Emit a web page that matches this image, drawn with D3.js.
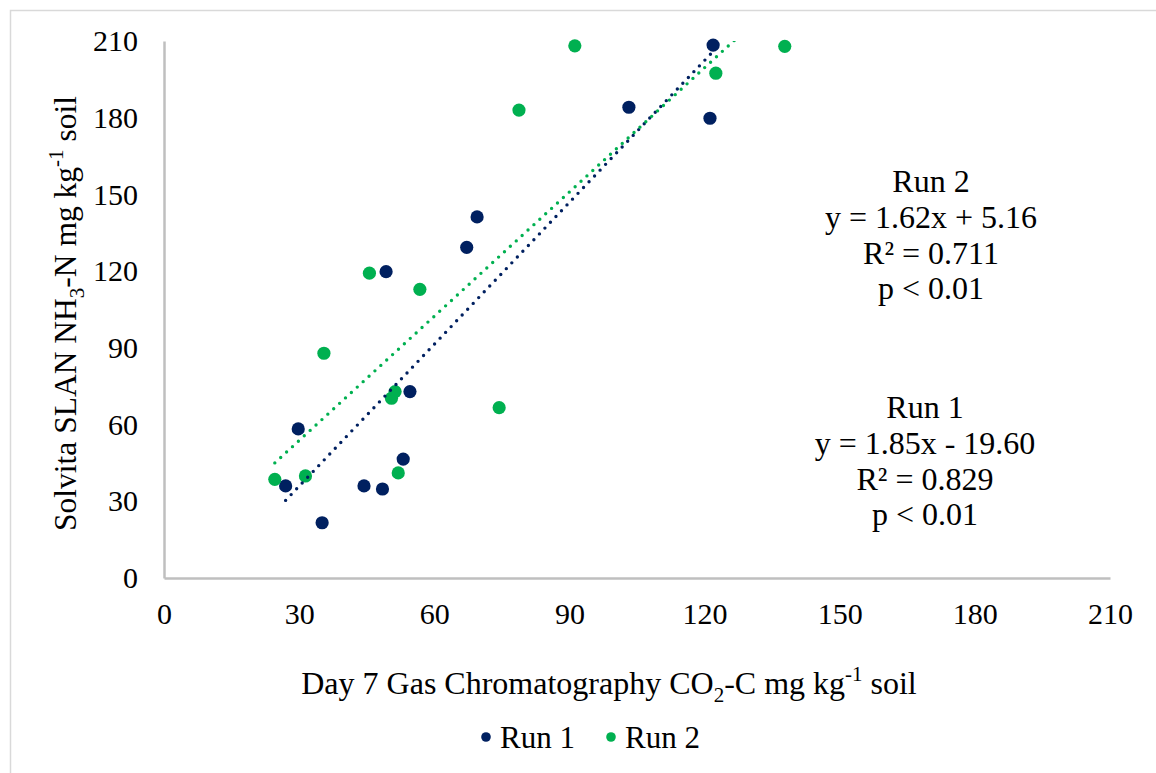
<!DOCTYPE html>
<html>
<head>
<meta charset="utf-8">
<script src="https://cdn.jsdelivr.net/npm/d3@7"></script>
<style>
  html, body { margin: 0; padding: 0; background: #ffffff; }
  svg text { font-family: "Liberation Serif", "Times New Roman", serif; fill: #000; }
</style>
</head>
<body>
<svg id="chart" width="1156" height="773"></svg>
<script>
// Run 1 measurements (CO2-C vs NH3-N, mg/kg soil)
const run1X = [27.0, 29.8, 35.1, 44.4, 48.5, 53.1, 49.3, 54.6, 67.2, 69.5, 103.2, 121.2, 121.9];
const run1Y = [36.0, 58.3, 21.6, 36.0, 34.8, 46.5, 119.8, 72.9, 129.3, 141.2, 184.1, 179.8, 208.4];
// Run 2 measurements
const run2X = [24.6, 31.4, 35.5, 45.6, 50.5, 51.3, 52.0, 56.8, 74.4, 78.8, 91.2, 122.5, 137.8];
const run2Y = [38.6, 39.9, 87.9, 119.2, 70.3, 72.9, 41.1, 112.9, 66.6, 183.0, 208.1, 197.4, 207.9];

// Linear fits [slope, intercept]
const run1Fit = [1.85, -19.60];
const run2Fit = [1.62, 5.16];

const seriesNames = ["Run 1", "Run 2"];
const seriesColors = ["#002060", "#00B050"];

const xTicks = [0, 30, 60, 90, 120, 150, 180, 210];
const yTicks = [0, 30, 60, 90, 120, 150, 180, 210];

const run2Stats = ["Run 2", "y = 1.62x + 5.16", "R² = 0.711", "p < 0.01"];
const run1Stats = ["Run 1", "y = 1.85x - 19.60", "R² = 0.829", "p < 0.01"];

const svg = d3.select("#chart");
const W = 1156, H = 773;
const plot = { left: 164, right: 1110, top: 41, bottom: 578 };

const x = d3.scaleLinear().domain([0, 210]).range([plot.left, plot.right]);
const y = d3.scaleLinear().domain([0, 210]).range([plot.bottom, plot.top]);

// chart frame
svg.append("rect")
  .attr("x", 10.5).attr("y", 10.5)
  .attr("width", W + 20).attr("height", H + 20)
  .attr("fill", "#fff").attr("stroke", "#D9D9D9").attr("stroke-width", 1.5);

svg.append("clipPath").attr("id", "plotClip")
  .append("rect")
  .attr("x", plot.left).attr("y", plot.top)
  .attr("width", plot.right - plot.left).attr("height", plot.bottom - plot.top);

// axes
const axisColor = "#BFBFBF";
const gx = svg.append("g")
  .attr("transform", `translate(0,${plot.bottom})`)
  .call(d3.axisBottom(x).tickValues(xTicks).tickSize(0).tickPadding(25).tickFormat(d3.format("d")));
const gy = svg.append("g")
  .attr("transform", `translate(${plot.left},0)`)
  .call(d3.axisLeft(y).tickValues(yTicks).tickSize(0).tickPadding(26).tickFormat(d3.format("d")));
[gx, gy].forEach(g => {
  g.select(".domain").attr("stroke", axisColor).attr("stroke-width", 2.5);
  g.selectAll("text")
    .style("font-family", "'Liberation Serif', 'Times New Roman', serif")
    .style("font-size", "30px").attr("fill", "#000");
});

// markers
const series = [
  { xs: run1X, ys: run1Y, fit: run1Fit, color: seriesColors[0] },
  { xs: run2X, ys: run2Y, fit: run2Fit, color: seriesColors[1] }
];
series.forEach(s => {
  svg.append("g").selectAll("circle")
    .data(s.xs.map((v, i) => [v, s.ys[i]]))
    .join("circle")
    .attr("cx", d => x(d[0])).attr("cy", d => y(d[1]))
    .attr("r", 6.6).attr("fill", s.color);
});

// dotted trendlines over the data range
const line = d3.line().x(d => x(d[0])).y(d => y(d[1]));
const trendG = svg.append("g").attr("clip-path", "url(#plotClip)");
series.forEach(s => {
  const [x0, x1] = d3.extent(s.xs);
  const pts = [[x0, s.fit[0] * x0 + s.fit[1]], [x1, s.fit[0] * x1 + s.fit[1]]];
  trendG.append("path")
    .attr("d", line(pts))
    .attr("fill", "none").attr("stroke", s.color)
    .attr("stroke-width", 3.4).attr("stroke-linecap", "round")
    .attr("stroke-dasharray", "0 8");
});

// regression annotations
function statBlock(lines, cx, baseline) {
  const t = svg.append("text").attr("text-anchor", "middle").style("font-size", "32px");
  lines.forEach((s, i) => {
    t.append("tspan").attr("x", cx).attr("y", baseline + i * 35.8).text(s);
  });
}
statBlock(run2Stats, 931, 192);
statBlock(run1Stats, 925, 418);

// axis titles
const xt = svg.append("text")
  .attr("x", 609).attr("y", 694)
  .attr("text-anchor", "middle").style("font-size", "32px");
xt.append("tspan").text("Day 7 Gas Chromatography CO");
xt.append("tspan").attr("dy", 8).style("font-size", "21px").text("2");
xt.append("tspan").attr("dy", -8).text("-C mg kg");
xt.append("tspan").attr("dy", -13).style("font-size", "21px").text("-1");
xt.append("tspan").attr("dy", 13).text(" soil");

const yt = svg.append("text")
  .attr("transform", `translate(76,${(plot.top + plot.bottom) / 2 + 4}) rotate(-90)`)
  .attr("text-anchor", "middle").style("font-size", "31.5px");
yt.append("tspan").text("Solvita SLAN NH");
yt.append("tspan").attr("dy", 8).style("font-size", "21px").text("3");
yt.append("tspan").attr("dy", -8).text("-N mg kg");
yt.append("tspan").attr("dy", -13).style("font-size", "21px").text("-1");
yt.append("tspan").attr("dy", 13).text(" soil");

// legend
const legendItems = [
  { name: seriesNames[0], color: seriesColors[0], mx: 486, tx: 500 },
  { name: seriesNames[1], color: seriesColors[1], mx: 611, tx: 625 }
];
const lg = svg.append("g");
legendItems.forEach(it => {
  lg.append("circle").attr("cx", it.mx).attr("cy", 737).attr("r", 4.8).attr("fill", it.color);
  lg.append("text").attr("x", it.tx).attr("y", 748).style("font-size", "31px").text(it.name);
});
</script>
</body>
</html>
